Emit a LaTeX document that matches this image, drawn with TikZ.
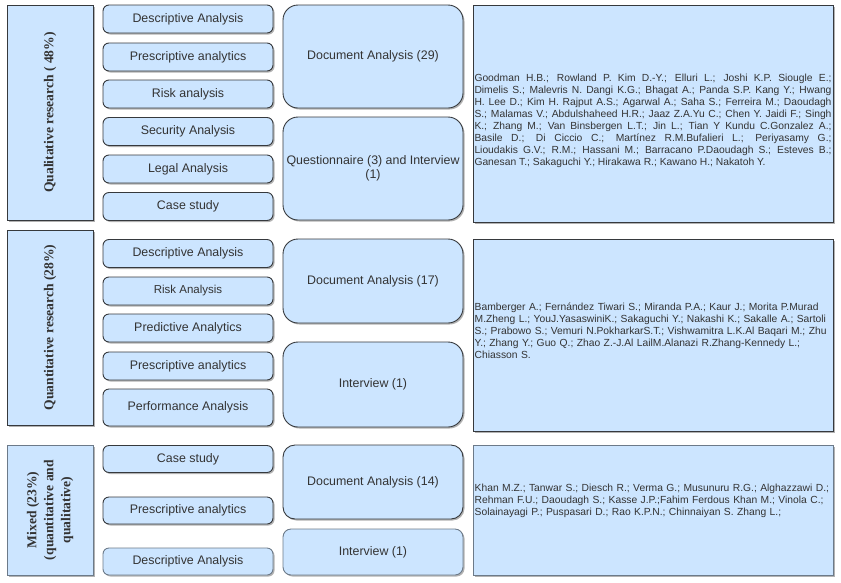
\documentclass[tikz,border=0pt]{standalone}
\usepackage{fontspec}
\setmainfont{Liberation Sans}
\newfontfamily\labelfont{Liberation Serif}
\usetikzlibrary{shadows}
\definecolor{boxfill}{HTML}{CCE5FF}
\definecolor{boxline}{HTML}{36393D}
\definecolor{lightline}{HTML}{6C7A89}
\definecolor{txt}{HTML}{333333}
\tikzset{
  base/.style={draw=boxline, fill=boxfill, line width=0.9pt, text=txt, inner sep=0pt,
    drop shadow={shadow xshift=1.5pt, shadow yshift=-1.5pt, opacity=0.3, fill=black}},
  method/.style={base, rounded corners=6pt, minimum width=170pt, minimum height=28pt,
    font=\fontsize{12.4}{14}\selectfont},
  source/.style={base, rounded corners=15pt, minimum width=180pt,
    font=\fontsize{12.4}{14}\selectfont, align=center},
  catbox/.style={base, rounded corners=0pt, minimum width=86pt},
  cattext/.style={text=txt, rotate=90, font=\labelfont\bfseries\fontsize{13.6}{17}\selectfont, align=center},
  refbox/.style={base, rounded corners=0pt, minimum width=360pt},
  reftext/.style={text=txt, font=\fontsize{10.3}{12}\selectfont, inner xsep=1.5pt, inner ysep=0pt, text width=357pt},
  reftextl/.style={text=txt, font=\fontsize{10.3}{12}\selectfont, inner xsep=0pt, inner ysep=0pt, text width=390pt, align=left, anchor=west},
  light/.style={draw=lightline}
}
\begin{document}
\begin{tikzpicture}[x=1pt,y=-1pt]
\useasboundingbox (0,0) rectangle (841,582);
% ---------- Qualitative ----------
\node[catbox, minimum height=215pt] (L1) at (50,112.5) {};
\node[cattext] (L1t) at (L1.center) {Qualitative research ( 48\%)};
\node[method] (a1) at (188,19) {Descriptive Analysis};
\node[method] (a2) at (188,57) {Prescriptive analytics};
\node[method] (a3) at (188,94) {Risk analysis};
\node[method] (a4) at (188,131.5) {Security Analysis};
\node[method] (a5) at (188,169) {Legal Analysis};
\node[method] (a6) at (188,206.5) {Case study};
\node[source, minimum height=103pt] (s1) at (373,56.5) {Document Analysis (29)};
\node[source, minimum height=103pt] (s2) at (373,168.5) {Questionnaire (3) and Interview\\(1)};
\node[refbox, minimum height=217pt] (r1) at (653,113.5) {};
\node[reftext, align=justify] (r1t) at (653,121) {Goodman H.B.; Rowland P. Kim D.-Y.; Elluri L.; Joshi K.P. Siougle E.;\linebreak
Dimelis S.; Malevris N. Dangi K.G.; Bhagat A.; Panda S.P. Kang Y.; Hwang\linebreak
H. Lee D.; Kim H. Rajput A.S.; Agarwal A.; Saha S.; Ferreira M.; Daoudagh\linebreak
S.; Malamas V.; Abdulshaheed H.R.; Jaaz Z.A.Yu C.; Chen Y. Jaidi F.; Singh\linebreak
K.; Zhang M.; Van Binsbergen L.T.; Jin L.; Tian Y Kundu C.Gonzalez A.;\linebreak
Basile D.; Di Ciccio C.; Martínez R.M.Bufalieri L.; Periyasamy G.;\linebreak
Lioudakis G.V.; R.M.; Hassani M.; Barracano P.Daoudagh S.; Esteves B.;\linebreak
Ganesan T.; Sakaguchi Y.; Hirakawa R.; Kawano H.; Nakatoh Y.};
% ---------- Quantitative ----------
\node[catbox, minimum height=195pt] (L2) at (50,327.5) {};
\node[cattext] (L2t) at (L2.center) {Quantitative research (28\%)};
\node[method] (b1) at (188,253.5) {Descriptive Analysis};
\node[method, font=\fontsize{11.5}{14}\selectfont] (b2) at (188,291) {Risk Analysis};
\node[method] (b3) at (188,328) {Predictive Analytics};
\node[method] (b4) at (188,366) {Prescriptive analytics};
\node[method, minimum height=37pt] (b5) at (188,407.5) {Performance Analysis};
\node[source, minimum height=84pt] (s3) at (373,281) {Document Analysis (17)};
\node[source, minimum height=85pt] (s4) at (373,384.5) {Interview (1)};
\node[refbox, minimum height=192pt] (r2) at (653,335) {};
\node[reftextl] (r2t) at (474.5,331) {Bamberger A.; Fernández Tiwari S.; Miranda P.A.; Kaur J.; Morita P.Murad\\
M.Zheng L.; YouJ.YasaswiniK.; Sakaguchi Y.; Nakashi K.; Sakalle A.; Sartoli\\
S.; Prabowo S.; Vemuri N.PokharkarS.T.; Vishwamitra L.K.Al Baqari M.; Zhu\\
Y.; Zhang Y.; Guo Q.; Zhao Z.-J.Al LailM.Alanazi R.Zhang-Kennedy L.;\\
Chiasson S.};
% ---------- Mixed ----------
\node[catbox, light, minimum height=130pt] (L3) at (50,510) {};
\node[cattext] (L3t) at (L3.center) {Mixed (23\%)\\(quantitative and\\qualitative)};
\node[method, minimum height=27pt] (c1) at (188,459) {Case study};
\node[method, minimum height=27pt] (c2) at (188,510.5) {Prescriptive analytics};
\node[method, light, minimum height=27pt] (c3) at (188,561.5) {Descriptive Analysis};
\node[source, rounded corners=12pt, minimum height=74pt] (s5) at (373,482) {Document Analysis (14)};
\node[source, light, rounded corners=8pt, minimum height=46pt] (s6) at (373,552) {Interview (1)};
\node[refbox, light, minimum height=130pt] (r3) at (653,510) {};
\node[reftextl] (r3t) at (474.5,501) {Khan M.Z.; Tanwar S.; Diesch R.; Verma G.; Musunuru R.G.; Alghazzawi D.;\\
Rehman F.U.; Daoudagh S.; Kasse J.P.;Fahim Ferdous Khan M.; Vinola C.;\\
Solainayagi P.; Puspasari D.; Rao K.P.N.; Chinnaiyan S. Zhang L.;};
\end{tikzpicture}
\end{document}
